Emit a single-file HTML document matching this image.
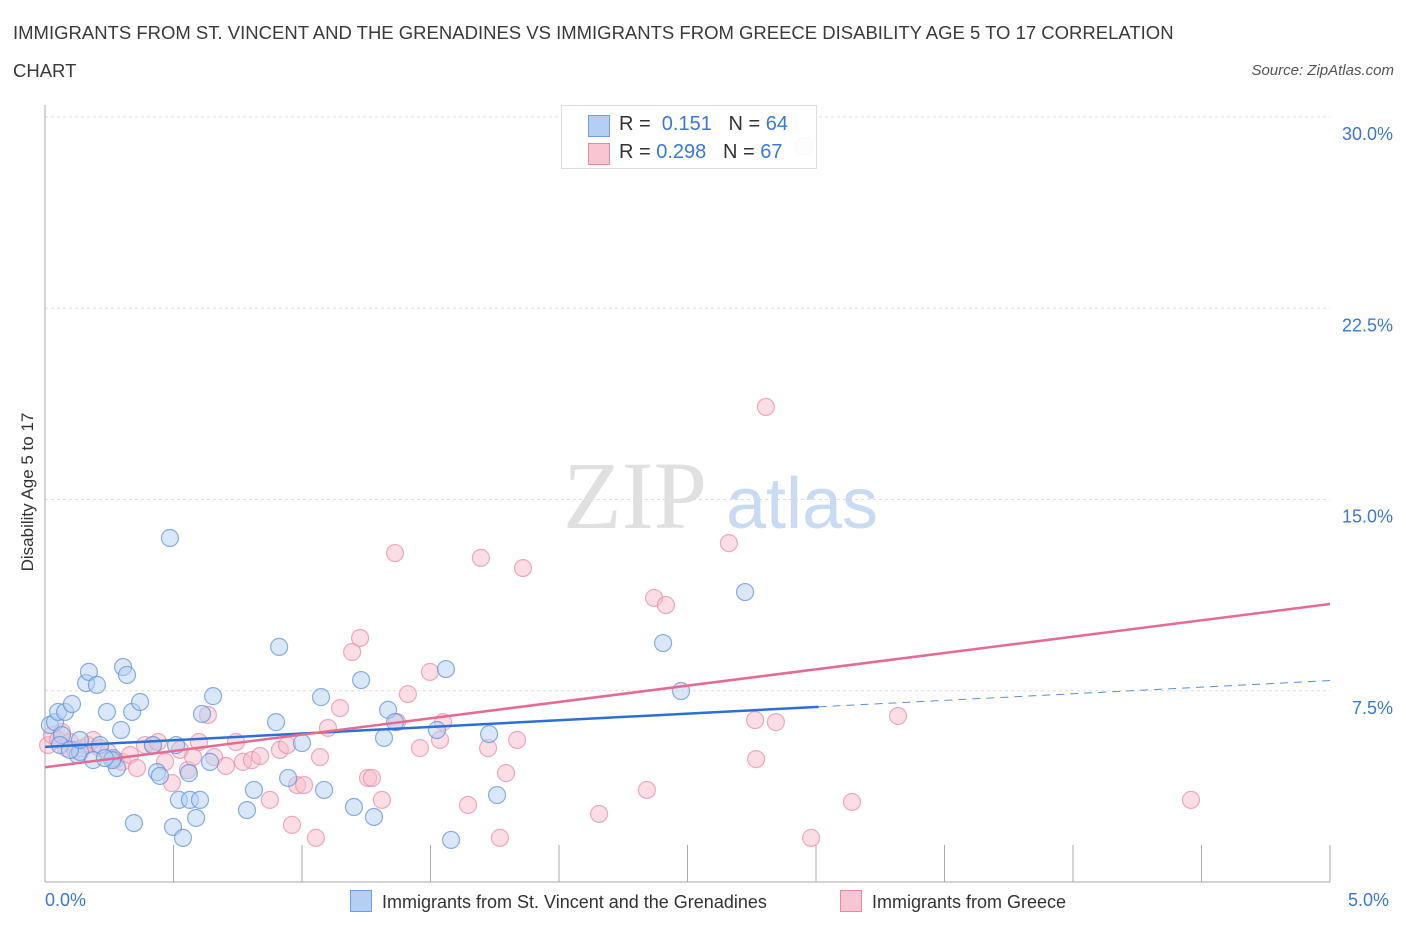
<!DOCTYPE html>
<html><head><meta charset="utf-8"><style>
body{margin:0;background:#fff;font-family:"Liberation Sans",sans-serif;}
.t{position:absolute;color:#333;}
</style></head><body>
<div style="position:relative;width:1406px;height:930px;overflow:hidden">
<div class="t" style="left:13px;top:14px;font-size:18.5px;line-height:38px;width:1165px;color:#3a3a3a">IMMIGRANTS FROM ST. VINCENT AND THE GRENADINES VS IMMIGRANTS FROM GREECE DISABILITY AGE 5 TO 17 CORRELATION CHART</div>
<div class="t" style="right:12px;top:62px;font-size:15px;font-style:italic;color:#555">Source: ZipAtlas.com</div>
<svg id="c" width="1406" height="930" style="position:absolute;left:0;top:0"></svg>
</div>
<script>
const blueX=[50,55,58,62,65,72,78,80,86,89,97,100,93,107,113,117,121,123,127,132,134,140,153,157,160,170,173,176,179,183,189,190,196,200,202,210,213,247,254,276,279,288,302,321,324,354,361,374,384,388,395,437,446,451,489,497,663,681,745,112,105,60,70,80].map(p=>+((p-45)/257).toFixed(3));
const blueY=[725,722,712,735,712,704,755,752,683,672,685,745,760,712,758,768,730,667,675,712,823,702,745,772,776,538,827,745,800,838,773,800,818,800,714,762,696,810,790,722,647,778,743,697,790,807,680,817,738,710,722,730,669,840,734,795,643,691,592,760,758,745,750,740].map(p=>+((882-p)/25.5).toFixed(2));
const pinkX=[48,52,58,62,66,70,75,82,88,93,100,108,115,122,130,137,145,153,158,165,172,180,188,193,199,208,214,226,236,243,252,260,270,280,287,292,297,304,316,320,328,340,352,360,368,372,382,395,397,408,420,430,440,443,468,481,488,500,506,517,523,599,647,654,666,729,756,755,766,776,804,811,852,898,1191].map(p=>+((p-45)/257).toFixed(3));
const pinkY=[745,735,740,732,748,742,750,748,745,740,748,752,760,762,755,768,745,745,742,762,783,750,770,757,742,715,757,766,742,762,760,756,800,750,745,825,785,785,838,757,728,708,652,638,778,778,800,553,722,694,748,672,740,722,805,558,748,838,773,740,568,814,790,598,605,543,759,720,407,722,146,838,802,716,800].map(p=>+((882-p)/25.5).toFixed(2));
const blueTrend=[5.3,6.87,7.9];
const pinkTrend=[4.5,10.9];
const yTicks=[7.5,15,22.5,30];
const xs=v=>45+v*257, ys=v=>882-v*25.5;
const svg=document.getElementById('c');const NS='http://www.w3.org/2000/svg';
function el(t,a,p){const e=document.createElementNS(NS,t);for(const k in a)e.setAttribute(k,a[k]);(p||svg).appendChild(e);return e;}
yTicks.forEach(v=>{const g=el('line',{x1:45,x2:1330,y1:ys(v),y2:ys(v),stroke:'#ddd','stroke-dasharray':'3,3'});


const t=el('text',{x:1393,y:ys(v)+23,'text-anchor':'end',fill:'#3b78d8','font-size':18,'font-family':'Liberation Sans'});t.textContent=v.toFixed(1)+'%';

});
el('line',{x1:45,x2:45,y1:105,y2:882,stroke:'#aaa'});
el('line',{x1:45,x2:1330,y1:882,y2:882,stroke:'#aaa'});
for(let i=0;i<=10;i++){const l=el('line',{x1:xs(i*0.5),x2:xs(i*0.5),y1:845,y2:882,stroke:'#aaa'});

}
const wz=el('text',{x:635,y:528,'text-anchor':'middle','font-size':96,fill:'#e0e0e0','font-family':'Liberation Serif'});wz.textContent='ZIP';
const wa=el('text',{x:802,y:528,'text-anchor':'middle','font-size':72,fill:'#c9dbf2','font-family':'Liberation Sans'});wa.textContent='atlas';
function pts(X,Y,f,s,name){X.forEach((x,i)=>{const c=el('circle',{cx:xs(x),cy:ys(Y[i]),r:8.5,fill:f,'fill-opacity':0.5,stroke:s,'stroke-opacity':0.7,'stroke-width':1.2});

});}
pts(pinkX,pinkY,'#f8bccb','#e88aa6','greece-point');
pts(blueX,blueY,'#b4cff2','#5b8fd8','st-vincent-point');
let b=el('line',{x1:xs(0),y1:ys(blueTrend[0]),x2:xs(3.01),y2:ys(blueTrend[1]),stroke:'#2c6fd6','stroke-width':2.5});

let bd=el('line',{x1:xs(3.01),y1:ys(blueTrend[1]),x2:xs(5),y2:ys(blueTrend[2]),stroke:'#5b8fd8','stroke-width':1,'stroke-dasharray':'8,6'});

let p=el('line',{x1:xs(0),y1:ys(pinkTrend[0]),x2:xs(5),y2:ys(pinkTrend[1]),stroke:'#e56b93','stroke-width':2.5});

</script>
<div class="t" style="left:-62px;top:482px;width:180px;transform:rotate(-90deg);font-size:17px;text-align:center">Disability Age 5 to 17</div>
<div class="t" style="left:45px;top:890px;font-size:18px;color:#3b78d8">0.0%</div>
<div class="t" style="left:1348px;top:890px;font-size:18px;color:#3b78d8">5.0%</div>
<div style="position:absolute;left:561px;top:105px;width:254px;height:62px;border:1px solid #ddd;background:rgba(255,255,255,0.9);font-size:20px">
<div style="position:absolute;left:26px;top:9px;width:20px;height:20px;background:#b4cff2;border:1px solid #6e9de0"></div>
<div style="position:absolute;left:57px;top:7px;color:#333">R = <span style="color:#3b78d8">&nbsp;0.151</span> &nbsp;&nbsp;N = <span style="color:#3b78d8">64</span></div>
<div style="position:absolute;left:26px;top:37px;width:20px;height:20px;background:#f8c6d3;border:1px solid #e88aa6"></div>
<div style="position:absolute;left:57px;top:35px;color:#333">R = <span style="color:#3b78d8">0.298</span> &nbsp;&nbsp;N = <span style="color:#3b78d8">67</span></div>
</div>
<div style="position:absolute;left:350px;top:890px;font-size:18px;color:#333"><span style="display:inline-block;width:20px;height:20px;background:#b4cff2;border:1px solid #6e9de0;vertical-align:-4px;margin-right:10px"></span>Immigrants from St. Vincent and the Grenadines</div>
<div style="position:absolute;left:840px;top:890px;font-size:18px;color:#333"><span style="display:inline-block;width:20px;height:20px;background:#f8c6d3;border:1px solid #e88aa6;vertical-align:-4px;margin-right:10px"></span>Immigrants from Greece</div>
</body></html>
